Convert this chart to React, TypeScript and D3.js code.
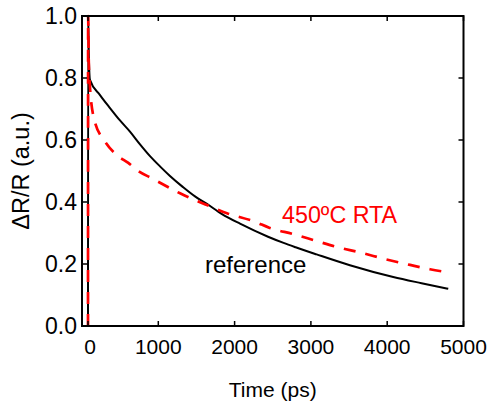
import React, { useEffect, useRef } from 'react';
import * as d3 from 'd3';

// time (ps) and dR/R values
const refTime = [0, 2, 12, 28, 171, 313, 455, 597, 740, 882, 1022, 1153, 1324, 1481, 1638, 1835, 2071, 2438, 2642, 2800, 3075, 3511, 4079, 4450, 4800];
const refValue = [0, 1.0, 0.87, 0.794, 0.745, 0.703, 0.663, 0.627, 0.586, 0.548, 0.515, 0.484, 0.448, 0.418, 0.394, 0.361, 0.33, 0.288, 0.268, 0.254, 0.231, 0.196, 0.158, 0.138, 0.12];

const rtaTime = [0, 2, 10, 25, 90, 242, 408, 573, 715, 913, 1285, 1637, 1900, 2270, 2453, 2777, 3075, 3354, 3665, 3970, 4300, 4560, 4800];
const rtaValue = [0, 1.0, 0.86, 0.78, 0.665, 0.595, 0.552, 0.526, 0.5, 0.476, 0.428, 0.39, 0.364, 0.336, 0.317, 0.296, 0.274, 0.254, 0.236, 0.216, 0.197, 0.183, 0.173];

const xTicks = [0, 1000, 2000, 3000, 4000, 5000];
const yTicks = [0, 0.2, 0.4, 0.6, 0.8, 1.0];

const FONT = '"Liberation Sans", Arial, sans-serif';

function DecayChart() {
  const svgRef = useRef<SVGSVGElement>(null);

  useEffect(() => {
    const svg = d3.select(svgRef.current);
    svg.selectAll('*').remove();

    const left = 82, right = 463.5, top = 16, bottom = 326;

    // the zero tick sits a little right of the left axis
    const x = d3.scaleLinear().domain([-86, 0, 1000, 5000]).range([left, 88, 158.3, right]);
    const y = d3.scaleLinear().domain([0, 1]).range([bottom, top]);

    const line = d3.line<[number, number]>()
      .x(d => x(d[0]))
      .y(d => y(d[1]))
      .curve(d3.curveMonotoneX);

    const g = svg.append('g');

    g.append('path')
      .datum(refTime.map((t, i) => [t, refValue[i]] as [number, number]))
      .attr('d', line)
      .attr('fill', 'none')
      .attr('stroke', '#000')
      .attr('stroke-width', 2);

    g.append('path')
      .datum(rtaTime.map((t, i) => [t, rtaValue[i]] as [number, number]))
      .attr('d', line)
      .attr('fill', 'none')
      .attr('stroke', '#ff0000')
      .attr('stroke-width', 2.7)
      .attr('stroke-dasharray', '12,10');

    // frame
    g.append('rect')
      .attr('x', left).attr('y', top)
      .attr('width', right - left).attr('height', bottom - top)
      .attr('fill', 'none').attr('stroke', '#000').attr('stroke-width', 2);

    const tl = 5;
    xTicks.forEach(t => {
      g.append('line').attr('x1', x(t)).attr('x2', x(t)).attr('y1', bottom).attr('y2', bottom - tl)
        .attr('stroke', '#000').attr('stroke-width', 1.5);
      g.append('line').attr('x1', x(t)).attr('x2', x(t)).attr('y1', top).attr('y2', top + tl)
        .attr('stroke', '#000').attr('stroke-width', 1.5);
      g.append('text').attr('x', x(t) + (t === 0 ? 2 : 0)).attr('y', 354)
        .attr('text-anchor', 'middle').attr('font-family', FONT).attr('font-size', 21)
        .text(String(t));
    });

    yTicks.forEach(v => {
      g.append('line').attr('x1', left).attr('x2', left + tl).attr('y1', y(v)).attr('y2', y(v))
        .attr('stroke', '#000').attr('stroke-width', 1.5);
      g.append('line').attr('x1', right).attr('x2', right - tl).attr('y1', y(v)).attr('y2', y(v))
        .attr('stroke', '#000').attr('stroke-width', 1.5);
      g.append('text').attr('x', 77).attr('y', y(v) + 8.3)
        .attr('text-anchor', 'end').attr('font-family', FONT).attr('font-size', 23)
        .text(v.toFixed(1));
    });

    g.append('text').attr('x', (left + right) / 2).attr('y', 397)
      .attr('text-anchor', 'middle').attr('font-family', FONT).attr('font-size', 21)
      .text('Time (ps)');

    g.append('text')
      .attr('transform', `translate(29, ${(top + bottom) / 2}) rotate(-90)`)
      .attr('text-anchor', 'middle').attr('font-family', FONT).attr('font-size', 23.5)
      .text('ΔR/R (a.u.)');

    g.append('text').attr('x', 282).attr('y', 223)
      .attr('font-family', FONT).attr('font-size', 23.3).attr('fill', '#ff0000')
      .text('450ºC RTA');

    g.append('text').attr('x', 205).attr('y', 273)
      .attr('font-family', FONT).attr('font-size', 24).attr('fill', '#000')
      .text('reference');
  }, []);

  return <svg ref={svgRef} width={494} height={408} style={{ position: 'absolute', left: 0, top: 0, background: '#fff' }} />;
}

export default function App() {
  return <DecayChart />;
}
